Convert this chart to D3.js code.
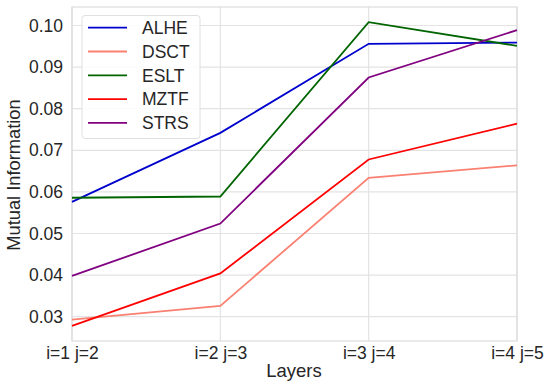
<!DOCTYPE html>
<html><head><meta charset="utf-8">
<script src="https://cdn.jsdelivr.net/npm/d3@7"></script>
<style>body{margin:0;background:#fff}svg{display:block}text{font-family:"Liberation Sans",Arial,sans-serif;fill:#262626}</style>
</head><body>
<svg id="c" width="550" height="388"></svg>
<script>
const categories = ["i=1 j=2","i=2 j=3","i=3 j=4","i=4 j=5"];
const seriesNames = ["ALHE","DSCT","ESLT","MZTF","STRS"];
const seriesColors = ["#0000cd","#fa8072","#006400","#ff0000","#800080"];
const ALHE = [0.0576,0.0742,0.0956,0.0959];
const DSCT = [0.0293,0.0326,0.0634,0.0664];
const ESLT = [0.0586,0.0589,0.1008,0.0951];
const MZTF = [0.0278,0.0404,0.0678,0.0764];
const STRS = [0.0398,0.0524,0.0875,0.0989];
const yTicks = [0.03,0.04,0.05,0.06,0.07,0.08,0.09,0.10];
const seriesValues = [ALHE,DSCT,ESLT,MZTF,STRS];

const svg = d3.select("#c");
const L=72,R=517,T=7,B=341;
const x = d3.scalePoint().domain(categories).range([L,R]);
const y = d3.scaleLinear().domain([0.02416,0.10445]).range([B,T]);
const grid="#e3e3e3";
svg.append("g").selectAll("line").data(yTicks).join("line")
  .attr("x1",L).attr("x2",R).attr("y1",d=>y(d)).attr("y2",d=>y(d))
  .attr("stroke",grid).attr("stroke-width",1.2);
svg.append("g").selectAll("line").data(categories).join("line")
  .attr("x1",d=>x(d)).attr("x2",d=>x(d)).attr("y1",T).attr("y2",B)
  .attr("stroke",grid).attr("stroke-width",1.2);
svg.append("rect").attr("x",L).attr("y",T).attr("width",R-L).attr("height",B-T)
  .attr("fill","none").attr("stroke","#dcdcdc").attr("stroke-width",1.2);
const ya = svg.append("g").attr("transform",`translate(${L},0)`)
  .call(d3.axisLeft(y).tickValues(yTicks).tickFormat(d3.format(".2f")).tickSize(0).tickPadding(9));
ya.select(".domain").remove();
ya.selectAll("text").style("font-size","17.5px").attr("fill","#262626");
const xa = svg.append("g").attr("transform",`translate(0,${B})`)
  .call(d3.axisBottom(x).tickSize(0).tickPadding(6));
xa.select(".domain").remove();
xa.selectAll("text").style("font-size","17.5px").attr("fill","#262626");
svg.append("text").attr("x",294).attr("y",377).attr("text-anchor","middle").style("font-size","18.5px").text("Layers");
svg.append("text").attr("transform","translate(20,175) rotate(-90)").attr("text-anchor","middle").style("font-size","18.3px").text("Mutual Information");
const line = d3.line().x((d,i)=>x(categories[i])).y(d=>y(d));
svg.append("g").selectAll("path").data(seriesValues).join("path")
  .attr("d",line).attr("fill","none").attr("stroke",(d,i)=>seriesColors[i]).attr("stroke-width",1.8);
const lg = svg.append("g");
lg.append("rect").attr("x",82).attr("y",15.5).attr("width",118).attr("height",123).attr("rx",3)
  .attr("fill","#fff").attr("fill-opacity",0.85).attr("stroke","#e0e0e0");
seriesNames.forEach((n,i)=>{
  const yy = 27.7 + i*23.8;
  lg.append("line").attr("x1",88).attr("x2",127).attr("y1",yy).attr("y2",yy).attr("stroke",seriesColors[i]).attr("stroke-width",1.8);
  lg.append("text").attr("x",142).attr("y",yy+6.2).style("font-size","17.5px").text(n);
});
</script></body></html>
